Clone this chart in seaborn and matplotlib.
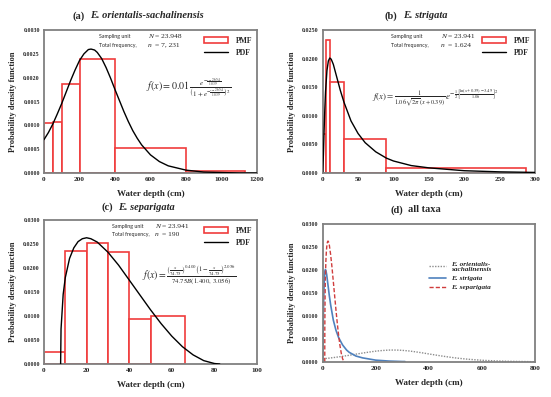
import matplotlib
matplotlib.use("Agg")
import matplotlib.pyplot as plt
import seaborn as sns
import pandas as pd
from matplotlib.patches import Patch
from matplotlib.lines import Line2D
from matplotlib.ticker import FormatStrFormatter, MultipleLocator

# ---------------- data ----------------
# (a) E. orientalis-sachalinensis
a_edges = [0, 50, 100, 200, 400, 800, 1130]
a_pmf = [0.00105, 0.00108, 0.00187, 0.00239, 0.00053, 0.00005]
a_x = [0, 25, 50, 75, 100, 125, 150, 175, 200, 225, 250, 265, 285, 300, 325, 350,
       375, 400, 425, 450, 475, 500, 525, 550, 600, 650, 700, 800, 900, 1000, 1100, 1200]
a_pdf = [0.00070, 0.00085, 0.00103, 0.00124, 0.00146, 0.00170, 0.00194, 0.00216,
         0.00236, 0.00250, 0.00259, 0.00260, 0.00258, 0.00253, 0.00240, 0.00221,
         0.00199, 0.00175, 0.00152, 0.00129, 0.00108, 0.00089, 0.00073, 0.00059,
         0.00038, 0.00024, 0.00015, 0.00006, 0.00002, 0.00001, 0.0, 0.0]

# (b) E. strigata
b_edges = [0, 5, 10, 30, 90, 287]
b_pmf = [0.0068, 0.0233, 0.0159, 0.0059, 0.0008]
b_x = [0, 1, 2, 3, 4, 6, 8, 10, 12, 15, 20, 25, 30, 40, 50, 60, 75, 90, 100, 125,
       150, 200, 250, 300, 310]
b_pdf = [0.0002, 0.0032, 0.0075, 0.0112, 0.0142, 0.0179, 0.0196, 0.0201, 0.0199,
         0.0190, 0.0167, 0.0144, 0.0124, 0.0091, 0.0069, 0.0053, 0.0037, 0.0026,
         0.0021, 0.0013, 0.0009, 0.0004, 0.0002, 0.0001, 0.0001]

# (c) E. separigata
c_edges = [0, 10, 20, 30, 40, 50, 66]
c_pmf = [0.0026, 0.0235, 0.0253, 0.0233, 0.0093, 0.0099]
c_x = [7.8, 8, 9, 10, 12, 14, 16, 18, 20, 22, 25, 30, 35, 40, 45, 50, 55, 60, 65,
       70, 75, 80, 82.5]
c_pdf = [0.0, 0.0073, 0.0145, 0.0180, 0.0220, 0.0242, 0.0255, 0.0261, 0.0263,
         0.0261, 0.0254, 0.0233, 0.0206, 0.0175, 0.0144, 0.0113, 0.0084, 0.0058,
         0.0036, 0.0019, 0.0007, 0.0001, 0.0]

titles = ["(a)", "(b)", "(c)", "(d)"]
species = ["E. orientalis-sachalinensis", "E. strigata", "E. separigata", "all taxa"]
N_vals = ["23.948", "23.941", "23.941"]
n_vals = ["7, 231", "1.624", "190"]

# ---------------- style ----------------
sns.set_style("white")
plt.rcParams["font.family"] = ["Liberation Serif", "DejaVu Serif"]
plt.rcParams["mathtext.fontset"] = "stix"

SERIF = "Liberation Serif"
SANS = "Lato"
RED = "#f03c3c"
FRAME = "#808080"

W, H = 551, 397
fig = plt.figure(figsize=(W / 100, H / 100), dpi=100)


def add_ax(x0, x1, y0, y1):
    return fig.add_axes([x0 / W, 1 - y1 / H, (x1 - x0) / W, (y1 - y0) / H])


axA = add_ax(44, 257, 30, 173)
axB = add_ax(322.7, 535, 30, 173)
axC = add_ax(44, 257, 220, 364)
axD = add_ax(322.7, 535, 224, 362)


def style_axis(ax, xmax, xstep, ymax, ystep):
    ax.set_xlim(0, xmax)
    ax.set_ylim(0, ymax)
    ax.xaxis.set_major_locator(MultipleLocator(xstep))
    ax.yaxis.set_major_locator(MultipleLocator(ystep))
    ax.yaxis.set_major_formatter(FormatStrFormatter("%.4f"))
    for s in ax.spines.values():
        s.set_color(FRAME)
        s.set_linewidth(1.3)
    ax.tick_params(axis="both", length=0, pad=3)
    for lab in ax.get_xticklabels():
        lab.set_fontsize(5.2)
        lab.set_fontweight("bold")
        lab.set_family(SERIF)
    for lab in ax.get_yticklabels():
        lab.set_fontsize(4.3)
        lab.set_fontweight("bold")
        lab.set_family(SERIF)
    ax.set_xlabel("Water depth (cm)", fontsize=6.5, fontweight="bold", family=SERIF)
    ax.set_ylabel("Probability density function", fontsize=6.0, fontweight="bold",
                  family=SERIF)
    ax.xaxis.set_label_coords(0.5, -0.12)
    ax.yaxis.set_label_coords(-0.128, 0.5)


def draw_pmf(ax, edges, vals):
    lefts = edges[:-1]
    widths = [edges[i + 1] - edges[i] for i in range(len(vals))]
    ax.bar(lefts, vals, width=widths, align="edge", facecolor="white",
           edgecolor=RED, linewidth=1.2, zorder=2)


def draw_pdf(ax, xs, ys):
    df = pd.DataFrame({"x": xs, "y": ys})
    sns.lineplot(data=df, x="x", y="y", ax=ax, color="black", linewidth=1.0,
                 sort=False, zorder=3)


def info_text(ax, xl, xr, y1, y2, N, n):
    ax.text(xl, y1, "Sampling unit", transform=ax.transAxes, fontsize=3.8,
            family=SANS, va="center", ha="left")
    ax.text(xl, y2, "Total frequency,", transform=ax.transAxes, fontsize=3.8,
            family=SANS, va="center", ha="left")
    ax.text(xr, y1, "N", transform=ax.transAxes, fontsize=5.4,
            family=SERIF, style="italic", va="center", ha="left")
    ax.text(xr + 0.035, y1, "= " + N, transform=ax.transAxes, fontsize=5.4,
            family=SERIF, va="center", ha="left")
    ax.text(xr, y2, "n", transform=ax.transAxes, fontsize=5.4,
            family=SERIF, style="italic", va="center", ha="left")
    ax.text(xr + 0.035, y2, "= " + n, transform=ax.transAxes, fontsize=5.4,
            family=SERIF, va="center", ha="left")


def pmf_legend(ax, anchor):
    handles = [Patch(facecolor="white", edgecolor=RED, linewidth=1.2),
               Line2D([0], [0], color="black", linewidth=1.0)]
    leg = ax.legend(handles, ["PMF", "PDF"], loc="upper right",
                    bbox_to_anchor=anchor, frameon=False, handlelength=3.2,
                    handleheight=0.9, handletextpad=1.0, labelspacing=0.5,
                    prop={"family": SERIF, "weight": "bold", "size": 5.5})
    return leg


# ---- (a)
draw_pmf(axA, a_edges, a_pmf)
draw_pdf(axA, a_x, a_pdf)
style_axis(axA, 1200, 200, 0.0030, 0.0005)
info_text(axA, 0.258, 0.488, 0.955, 0.893, N_vals[0], n_vals[0])
pmf_legend(axA, (1.01, 1.0))
axA.text(0.48, 0.60,
         r"$f(x) = 0.01\,\frac{e^{-\frac{x-265.4}{103.9}}}"
         r"{\left(1+e^{-\frac{x-265.4}{103.9}}\right)^{2}}$",
         transform=axA.transAxes, fontsize=7.2, va="center", ha="left")

# ---- (b)
draw_pmf(axB, b_edges, b_pmf)
draw_pdf(axB, b_x, b_pdf)
style_axis(axB, 300, 50, 0.0250, 0.0050)
info_text(axB, 0.322, 0.556, 0.955, 0.893, N_vals[1], n_vals[1])
pmf_legend(axB, (1.01, 1.0))
axB.text(0.23, 0.53,
         r"$f(x) = \frac{1}{1.06\sqrt{2\pi}\,(x+0.39)}\,"
         r"e^{-\frac{1}{2}\left[\frac{\ln(x+0.39)-3.49}{1.06}\right]^{2}}$",
         transform=axB.transAxes, fontsize=6.4, va="center", ha="left")

# ---- (c)
draw_pmf(axC, c_edges, c_pmf)
draw_pdf(axC, c_x, c_pdf)
style_axis(axC, 100, 20, 0.0300, 0.0050)
info_text(axC, 0.318, 0.521, 0.958, 0.897, N_vals[2], n_vals[2])
pmf_legend(axC, (1.01, 1.0))
axC.text(0.46, 0.62,
         r"$f(x) = \frac{\left(\frac{x}{74.75}\right)^{0.400}"
         r"\left(1-\frac{x}{74.75}\right)^{2.056}}{74.75B(1.400,\,3.056)}$",
         transform=axC.transAxes, fontsize=7.0, va="center", ha="left")

# ---- (d)
dA = pd.DataFrame({"x": a_x, "y": a_pdf})
dB = pd.DataFrame({"x": b_x, "y": b_pdf})
dC = pd.DataFrame({"x": c_x, "y": c_pdf})
sns.lineplot(data=dA, x="x", y="y", ax=axD, color="#8c8c8c", linewidth=1.0,
             linestyle=(0, (1, 1)), sort=False, label="E. orientalis-\nsachalinensis")
sns.lineplot(data=dB, x="x", y="y", ax=axD, color="#4f81bd", linewidth=1.2,
             sort=False, label="E. strigata")
sns.lineplot(data=dC, x="x", y="y", ax=axD, color="#d03c3c", linewidth=1.0,
             linestyle=(0, (3, 1.5)), sort=False, label="E. separigata")
style_axis(axD, 800, 200, 0.0300, 0.0050)
axD.xaxis.set_label_coords(0.5, -0.12)
axD.legend(loc="upper left", bbox_to_anchor=(0.47, 0.775), frameon=False,
           handlelength=2.4, handletextpad=0.6, labelspacing=0.4,
           prop={"family": SERIF, "style": "italic", "weight": "bold", "size": 5.2})


# ---- titles
def title(xc, yc, tag, name, italic=True):
    t1 = fig.text(0, 0, tag, fontsize=7.5, fontweight="bold", family=SERIF,
                  va="center")
    t2 = fig.text(0, 0, name, fontsize=7.5, fontweight="bold", family=SERIF,
                  style="italic" if italic else "normal", va="center")
    fig.canvas.draw()
    r = fig.canvas.get_renderer()
    w1 = t1.get_window_extent(r).width
    w2 = t2.get_window_extent(r).width
    gap = 5
    total = w1 + gap + w2
    x0 = xc - total / 2
    t1.set_position((x0 / W, 1 - yc / H))
    t2.set_position(((x0 + w1 + gap) / W, 1 - yc / H))


title(138, 16, titles[0], species[0])
title(416, 16, titles[1], species[1])
title(138, 207, titles[2], species[2])
title(416, 210, titles[3], species[3], italic=False)

fig.savefig("out.png", dpi=100)
